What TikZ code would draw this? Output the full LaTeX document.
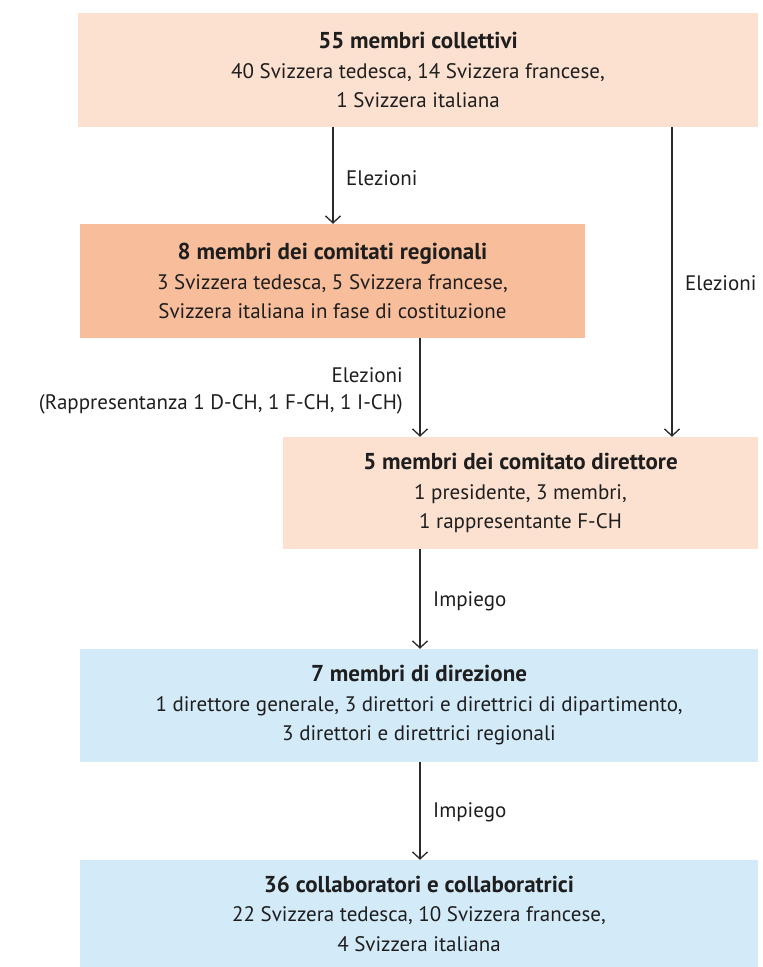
\documentclass[tikz,border=0pt]{standalone}
\usepackage{fontspec}
\setmainfont{PT Sans}
\usetikzlibrary{arrows.meta}
\definecolor{peach}{HTML}{FCE0D0}
\definecolor{salmon}{HTML}{F8BE9C}
\definecolor{skyb}{HTML}{D3EAF9}
\definecolor{ink}{HTML}{1E1E1E}
\definecolor{wire}{HTML}{2A2A2A}
\newcommand{\hd}[1]{{\fontsize{23}{29.5}\selectfont\bfseries #1}}
\tikzset{
  box/.style={rectangle, inner sep=0pt, align=center, text=ink,
    font=\fontsize{21}{29.5}\selectfont},
  lbl/.style={inner sep=0pt, text=ink, font=\fontsize{21}{29}\selectfont},
  arr/.style={draw=wire, line width=1.3pt, -{Straight Barb[length=7pt,width=15pt,line width=1.3pt]}},
}
\begin{document}
\begin{tikzpicture}[x=1pt,y=-1pt]
\useasboundingbox (0,0) rectangle (763,967);
\node[box, fill=peach, minimum width=680pt, minimum height=114pt] (b1) at (418,70)
  {\hd{55 membri collettivi}\\40 Svizzera tedesca, 14 Svizzera francese,\\1 Svizzera italiana};
\node[box, fill=salmon, minimum width=505pt, minimum height=114pt] (b2) at (332.5,281)
  {\hd{8 membri dei comitati regionali}\\3 Svizzera tedesca, 5 Svizzera francese,\\Svizzera italiana in fase di costituzione};
\node[box, fill=peach, minimum width=475pt, minimum height=112pt] (b3) at (520.5,493)
  {\hd{5 membri dei comitato direttore}\\1 presidente, 3 membri,\\1 rappresentante F-CH};
\node[box, fill=skyb, minimum width=678pt, minimum height=113pt] (b4) at (419,705.5)
  {\hd{7 membri di direzione}\\1 direttore generale, 3 direttori e direttrici di dipartimento,\\3 direttori e direttrici regionali};
\node[box, fill=skyb, minimum width=678pt, minimum height=107pt] (b5) at (419,913.5)
  {\hd{36 collaboratori e collaboratrici}\\22 Svizzera tedesca, 10 Svizzera francese,\\4 Svizzera italiana};
\coordinate (cA) at (333,0);
\coordinate (cB) at (420,0);
\coordinate (cC) at (672,0);
\draw[arr] (b1.south -| cA) -- (b2.north -| cA);
\draw[arr] (b1.south -| cC) -- (b3.north -| cC);
\draw[arr] (b2.south -| cB) -- (b3.north -| cB);
\draw[arr] (b3.south -| cB) -- (b4.north -| cB);
\draw[arr] (b4.south -| cB) -- (b5.north -| cB);
\node[lbl, anchor=west] (l1) at (346,178) {Elezioni};
\node[lbl, anchor=west] (l2) at (685,283) {Elezioni};
\node[lbl, anchor=east] (l3) at (403,375) {Elezioni};
\node[lbl, anchor=east] (l4) at (403,404) {(Rappresentanza 1 D-CH, 1 F-CH, 1 I-CH)};
\node[lbl, anchor=west] (l5) at (433,601) {Impiego};
\node[lbl, anchor=west] (l6) at (433,812) {Impiego};
\end{tikzpicture}
\end{document}
